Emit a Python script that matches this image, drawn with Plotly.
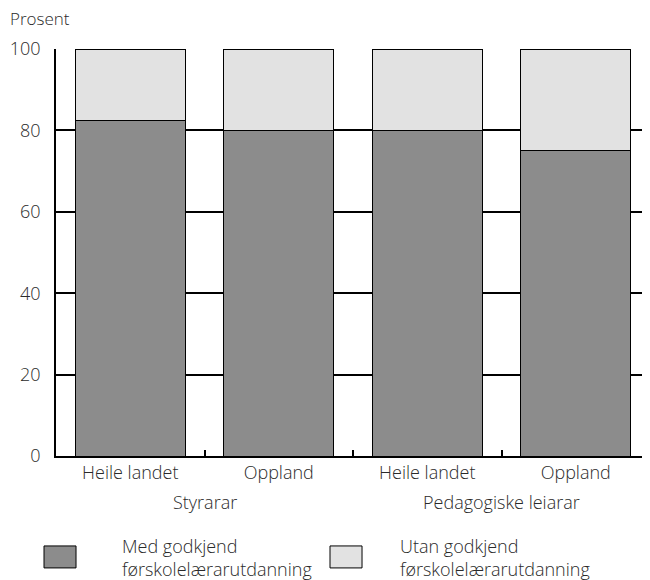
import plotly.graph_objects as go

categories = ["Heile landet", "Oppland", "Heile landet", "Oppland"]
groups = ["Styrarar", "Pedagogiske leiarar"]
med_godkjend = [82.5, 80, 80, 75]
utan_godkjend = [17.5, 20, 20, 25]
series_names = ["Med godkjend<br>førskolelærarutdanning", "Utan godkjend<br>førskolelærarutdanning"]
y_ticks = [0, 20, 40, 60, 80, 100]

DARK = "#8c8c8c"
LIGHT = "#e2e2e2"
FONT = "Open Sans"
TXT = "#2a2a2a"
FS = 18
W = 300

xs = list(range(len(categories)))

fig = go.Figure()
fig.add_trace(go.Bar(x=xs, y=med_godkjend, marker=dict(color=DARK, line=dict(color="black", width=1)),
                     showlegend=False))
fig.add_trace(go.Bar(x=xs, y=utan_godkjend, marker=dict(color=LIGHT, line=dict(color="black", width=1)),
                     showlegend=False))

fig.update_layout(
    width=642, height=572,
    margin=dict(l=48, r=0, t=41, b=124),
    barmode="stack", bargap=0.26,
    plot_bgcolor="white", paper_bgcolor="white",
    font=dict(family=FONT, size=FS, color=TXT, weight=W),
    xaxis=dict(range=[-0.5, 3.5], tickvals=xs, ticktext=categories, ticks="",
               showline=True, linecolor="black", linewidth=1.5, showgrid=False, zeroline=False,
               tickfont=dict(size=FS, color=TXT, weight=W),
               minor=dict(tickvals=[0.5, 1.5, 2.5], ticks="inside", ticklen=6, tickcolor="black", tickwidth=1.5)),
    yaxis=dict(range=[0, 100], tickvals=y_ticks, ticks="", showline=True, linecolor="black", linewidth=1.5,
               showgrid=True, gridcolor="black", gridwidth=1.5, zeroline=False,
               tickfont=dict(size=FS, color=TXT, weight=W), ticklabelstandoff=10),
)

# group labels
for i, g in enumerate(groups):
    fig.add_annotation(x=0.5 + 2 * i, y=-0.113, xref="x", yref="paper", text=g, showarrow=False,
                       font=dict(size=FS, color=TXT, weight=W), xanchor="center", yanchor="middle")

# y title
fig.add_annotation(x=-0.0808, y=1.076, xref="paper", yref="paper", text="Prosent", showarrow=False,
                   font=dict(size=FS - 1, color=TXT, weight=W), xanchor="left", yanchor="middle")

# manual legend
legend_items = [(-0.0202, 0.0337, 0.1077, DARK), (0.4613, 0.5152, 0.5758, LIGHT)]
for (x0, x1, tx, col), name in zip(legend_items, series_names):
    fig.add_shape(type="rect", xref="paper", yref="paper", x0=x0, x1=x1, y0=-0.275, y1=-0.221,
                  fillcolor=col, line=dict(color="black", width=1))
    fig.add_annotation(x=tx, y=-0.25, xref="paper", yref="paper", text=name, showarrow=False,
                       align="left", xanchor="left", yanchor="middle",
                       font=dict(size=FS, color=TXT, weight=W))

fig.write_html("out.html")
